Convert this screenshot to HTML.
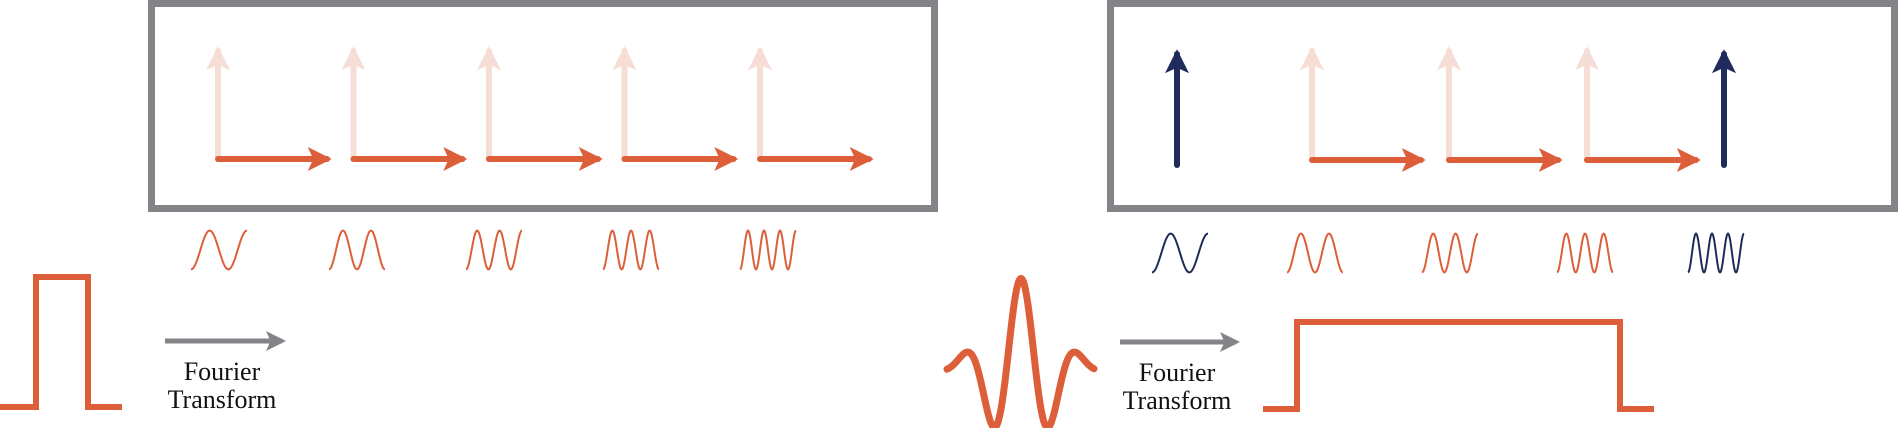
<!DOCTYPE html>
<html><head><meta charset="utf-8">
<style>
html,body{margin:0;padding:0;background:#fff;}
svg{display:block;}
text{font-family:"Liberation Serif",serif;font-size:26px;fill:#111;}
</style></head>
<body>
<svg id="fig" width="1898" height="428" viewBox="0 0 1898 428" xmlns="http://www.w3.org/2000/svg">
<defs>
<marker id="hOr" markerWidth="4" markerHeight="4" refX="3.2" refY="2" orient="auto" markerUnits="strokeWidth"><path d="M0,0 L4,2 L0,4 L0.9,2 Z" fill="#dc5f3a"/></marker>
<marker id="hPk" markerWidth="4" markerHeight="4" refX="3.2" refY="2" orient="auto" markerUnits="strokeWidth"><path d="M0,0 L4,2 L0,4 L0.9,2 Z" fill="#f6ddd5"/></marker>
<marker id="hNv" markerWidth="4" markerHeight="4" refX="3.2" refY="2" orient="auto" markerUnits="strokeWidth"><path d="M0,0 L4,2 L0,4 L0.9,2 Z" fill="#1f2b5a"/></marker>
<marker id="hGr" markerWidth="4" markerHeight="4" refX="3.2" refY="2" orient="auto" markerUnits="strokeWidth"><path d="M0,0 L4,2 L0,4 L0.9,2 Z" fill="#848488"/></marker>
</defs>
<rect x="151.5" y="3.5" width="783" height="205" fill="none" stroke="#848488" stroke-width="7"/>
<rect x="1110.5" y="3.5" width="784" height="205" fill="none" stroke="#848488" stroke-width="7"/>
<g id="arrows"></g>
<g id="waves"></g>
<path d="M0,407 L36,407 L36,277 L88,277 L88,407 L122,407" fill="none" stroke="#dc5f3a" stroke-width="6"/>
<line x1="165" y1="341" x2="282" y2="341" stroke="#848488" stroke-width="5" marker-end="url(#hGr)"/>
<text x="222" y="380" text-anchor="middle">Fourier</text>
<text x="222" y="408" text-anchor="middle">Transform</text>
<path id="wavelet" fill="none" stroke="#dc5f3a" stroke-width="7" stroke-linecap="round"/>
<line x1="1120" y1="342" x2="1236" y2="342" stroke="#848488" stroke-width="5" marker-end="url(#hGr)"/>
<text x="1177" y="381" text-anchor="middle">Fourier</text>
<text x="1177" y="409" text-anchor="middle">Transform</text>
<path d="M1263,409 L1297,409 L1297,322 L1620,322 L1620,409 L1654,409" fill="none" stroke="#dc5f3a" stroke-width="6"/>
</svg>
<script>
// basis vectors (type per slot)
const leftTypes = ["L","L","L","L","L"];
const rightTypes = ["N","L","L","L","N"];
const leftOrigins = [218, 353.5, 489, 624.5, 760];
const rightOrigins = [1177, 1312, 1449, 1587, 1724];
// wave half-cycle counts (phase from -pi to (n+1)pi)
const leftHalfCycles = [3, 4, 5, 6, 7];
const rightHalfCycles = [3, 4, 5, 6, 7];
const leftWaveX = [191, 329, 466, 603, 740];
const rightWaveX = [1152, 1287, 1422, 1557, 1688];
const rightWaveColors = ["#1f2b5a","#dc5f3a","#dc5f3a","#dc5f3a","#1f2b5a"];
// wavelet parameters
const waveletAmp = 90;
const waveletPeriod = 58;
const waveletSigma = 42.6;

const NS = "http://www.w3.org/2000/svg";
const ag = document.getElementById('arrows');
const wg = document.getElementById('waves');
function line(x1,y1,x2,y2,color,marker,name){
  const l = document.createElementNS(NS,'line');
  l.setAttribute('x1',x1);l.setAttribute('y1',y1);l.setAttribute('x2',x2);l.setAttribute('y2',y2);
  l.setAttribute('stroke',color);l.setAttribute('stroke-width',6);l.setAttribute('stroke-linecap','round');
  l.setAttribute('marker-end','url(#'+marker+')');
  
  
  ag.appendChild(l);
}
function drawArrows(types, origins, yBase, prefix){
  types.forEach((t,i)=>{
    const x = origins[i];
    if (t === "N"){
      line(x, yBase+5, x, 54, "#1f2b5a", "hNv", prefix+'-navy-arrow-'+(i+1));
    } else {
      line(x, yBase, x, 51, "#f6ddd5", "hPk", prefix+'-faded-arrow-'+(i+1));
      line(x, yBase, x+109, yBase, "#dc5f3a", "hOr", prefix+'-orange-arrow-'+(i+1));
    }
  });
}
drawArrows(leftTypes, leftOrigins, 159, 'left');
drawArrows(rightTypes, rightOrigins, 160, 'right');

function wave(x0, yc, halfCycles, color, name){
  const w = 56, amp = 20;
  let d = "";
  for (let k=0;k<=140;k++){
    const t = k/140;
    const ph = -Math.PI + t*(halfCycles)*Math.PI;
    const x = x0 + t*w;
    const y = yc - amp*Math.cos(ph)*0.97;
    d += (k?"L":"M")+x.toFixed(2)+","+y.toFixed(2);
  }
  const p = document.createElementNS(NS,'path');
  p.setAttribute('d',d);p.setAttribute('fill','none');p.setAttribute('stroke',color);p.setAttribute('stroke-width',2);
  
  
  wg.appendChild(p);
}
leftHalfCycles.forEach((h,i)=>wave(leftWaveX[i], 250, h, "#dc5f3a", 'left-basis-wave-'+(i+1)));
rightHalfCycles.forEach((h,i)=>wave(rightWaveX[i], 253, h, rightWaveColors[i], 'right-basis-wave-'+(i+1)));

(function(){
  const c = 1021, b = 368.5;
  let d = "";
  for (let x=947; x<=1094; x+=0.5){
    const u = x - c;
    const y = b - waveletAmp*Math.cos(2*Math.PI*u/waveletPeriod)*Math.exp(-(u*u)/(waveletSigma*waveletSigma));
    d += (x===947?"M":"L")+x.toFixed(1)+","+y.toFixed(2);
  }
  document.getElementById('wavelet').setAttribute('d', d);
})();
</script>
</body></html>
